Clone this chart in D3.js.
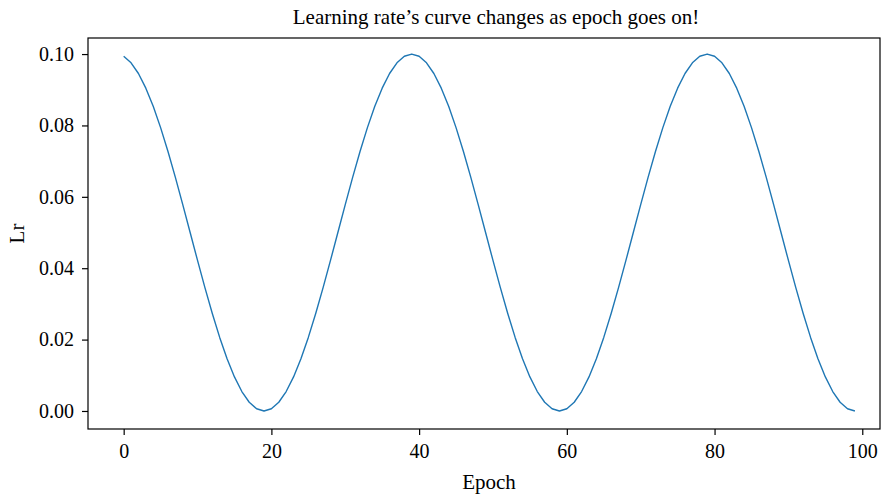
<!DOCTYPE html>
<html>
<head>
<meta charset="utf-8">
<script src="https://cdn.jsdelivr.net/npm/d3@7"></script>
<style>
  html, body { margin: 0; padding: 0; background: #fff; }
  svg text { font-family: "Liberation Serif", "DejaVu Serif", serif; fill: #000; }
</style>
</head>
<body>
<svg id="chart" width="881" height="494"></svg>
<script>
// Learning rate recorded at each epoch (cosine schedule, period of 40 epochs)
const epochs = d3.range(0, 100);
const lrValues = [
  0.09938, 0.09755, 0.09455, 0.09045, 0.08536, 0.07939, 0.07270, 0.06545, 0.05782, 0.05000,
  0.04218, 0.03455, 0.02730, 0.02061, 0.01464, 0.00955, 0.00545, 0.00245, 0.00062, 0.00000,
  0.00062, 0.00245, 0.00545, 0.00955, 0.01464, 0.02061, 0.02730, 0.03455, 0.04218, 0.05000,
  0.05782, 0.06545, 0.07270, 0.07939, 0.08536, 0.09045, 0.09455, 0.09755, 0.09938, 0.10000,
  0.09938, 0.09755, 0.09455, 0.09045, 0.08536, 0.07939, 0.07270, 0.06545, 0.05782, 0.05000,
  0.04218, 0.03455, 0.02730, 0.02061, 0.01464, 0.00955, 0.00545, 0.00245, 0.00062, 0.00000,
  0.00062, 0.00245, 0.00545, 0.00955, 0.01464, 0.02061, 0.02730, 0.03455, 0.04218, 0.05000,
  0.05782, 0.06545, 0.07270, 0.07939, 0.08536, 0.09045, 0.09455, 0.09755, 0.09938, 0.10000,
  0.09938, 0.09755, 0.09455, 0.09045, 0.08536, 0.07939, 0.07270, 0.06545, 0.05782, 0.05000,
  0.04218, 0.03455, 0.02730, 0.02061, 0.01464, 0.00955, 0.00545, 0.00245, 0.00062, 0.00000
];
const xTicks = [0, 20, 40, 60, 80, 100];
const yTicks = [0.00, 0.02, 0.04, 0.06, 0.08, 0.10];

const titleText = "Learning rate\u2019s curve changes as epoch goes on!";
const xLabel = "Epoch";
const yLabel = "Lr";

const svg = d3.select("#chart");
const plot = { left: 88, right: 880, top: 38, bottom: 429 };

const x = d3.scaleLinear().domain([-4.83, 102.4]).range([plot.left, plot.right]);
const y = d3.scaleLinear().domain([-0.00505, 0.1045]).range([plot.bottom, plot.top]);

// Axes
const xAxis = d3.axisBottom(x).tickValues(xTicks).tickSize(6).tickPadding(9).tickFormat(d3.format("d"));
const yAxis = d3.axisLeft(y).tickValues(yTicks).tickSize(6).tickPadding(8).tickFormat(d3.format(".2f"));

const gx = svg.append("g").attr("transform", `translate(0,${plot.bottom})`).call(xAxis);
const gy = svg.append("g").attr("transform", `translate(${plot.left},0)`).call(yAxis);

[gx, gy].forEach(g => {
  g.select(".domain").remove();
  g.selectAll(".tick line").attr("stroke", "#000").attr("stroke-width", 1.2);
  g.selectAll(".tick text").attr("font-size", 20).style("font-family", "Liberation Serif, serif");
});

// Line
const line = d3.line()
  .x((d, i) => x(epochs[i]))
  .y(d => y(d));

svg.append("path")
  .datum(lrValues)
  .attr("fill", "none")
  .attr("stroke", "#1f77b4")
  .attr("stroke-width", 1.4)
  .attr("stroke-linejoin", "round")
  .attr("d", line);

// Frame
svg.append("rect")
  .attr("x", plot.left).attr("y", plot.top)
  .attr("width", plot.right - plot.left).attr("height", plot.bottom - plot.top)
  .attr("fill", "none").attr("stroke", "#000").attr("stroke-width", 1.2);

// Title and axis labels
svg.append("text")
  .attr("x", 496).attr("y", 24)
  .attr("text-anchor", "middle").attr("font-size", 21)
  .text(titleText);

svg.append("text")
  .attr("x", 489).attr("y", 489)
  .attr("text-anchor", "middle").attr("font-size", 21)
  .text(xLabel);

svg.append("text")
  .attr("transform", `translate(24,${(plot.top + plot.bottom) / 2}) rotate(-90)`)
  .attr("text-anchor", "middle").attr("font-size", 21)
  .text(yLabel);
</script>
</body>
</html>
